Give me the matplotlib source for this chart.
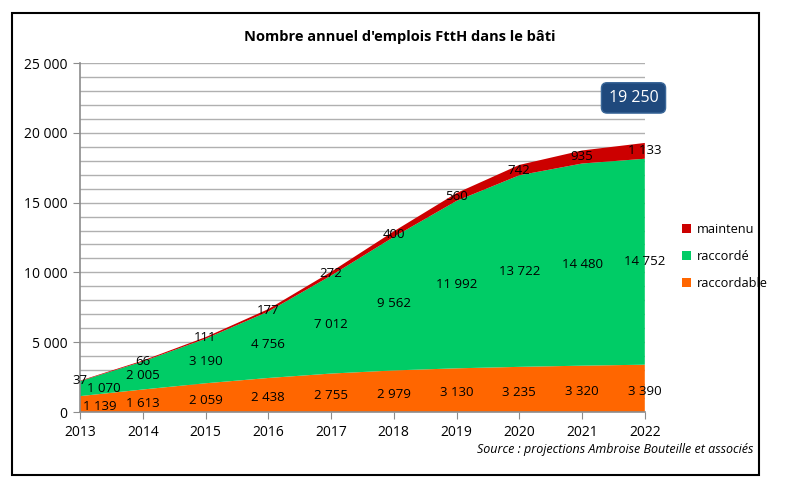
import matplotlib
matplotlib.use("Agg")
import matplotlib.pyplot as plt
from matplotlib.patches import Rectangle
from matplotlib.ticker import MultipleLocator, FuncFormatter

plt.rcParams["font.family"] = ["Open Sans", "DejaVu Sans"]

# Data
years = [2013, 2014, 2015, 2016, 2017, 2018, 2019, 2020, 2021, 2022]
raccordable = [1139, 1613, 2059, 2438, 2755, 2979, 3130, 3235, 3320, 3390]
raccorde = [1070, 2005, 3190, 4756, 7012, 9562, 11992, 13722, 14480, 14752]
maintenu = [37, 66, 111, 177, 272, 400, 560, 742, 935, 1133]
total_label = "19 250"

col_raccordable = "#FF6600"
col_raccorde = "#00CC66"
col_maintenu = "#CC0000"


def fmt(v):
    return f"{int(v):,}".replace(",", " ")


fig = plt.figure(figsize=(8, 4.88), dpi=100)
ax = fig.add_axes([0.1, 0.1557, 0.706, 0.7152])

ax.stackplot(years, raccordable, raccorde, maintenu,
             colors=[col_raccordable, col_raccorde, col_maintenu],
             labels=["raccordable", "raccordé", "maintenu"], zorder=2)

ax.set_xlim(2013, 2022)
ax.set_ylim(0, 25000)
ax.yaxis.set_major_locator(MultipleLocator(5000))
ax.yaxis.set_minor_locator(MultipleLocator(1000))
ax.yaxis.set_major_formatter(FuncFormatter(lambda v, p: fmt(v)))
ax.set_xticks(years)
ax.grid(True, which="both", axis="y", color="#B0B0B0", linewidth=1, zorder=0)
ax.set_axisbelow(True)
for s in ["top", "right"]:
    ax.spines[s].set_visible(False)
for s in ["left", "bottom"]:
    ax.spines[s].set_color("#8C8C8C")
    ax.spines[s].set_linewidth(1.2)
ax.tick_params(axis="both", which="major", color="#8C8C8C", length=5,
               labelsize=10, pad=4)
ax.tick_params(axis="y", which="minor", length=0)

# Data labels at segment centres
for i, yr in enumerate(years):
    dx = 14 if i == 0 else 0
    b1 = raccordable[i]
    b2 = b1 + raccorde[i]
    ax.annotate(fmt(raccordable[i]), (yr, b1 / 2), xytext=(dx, -2),
                textcoords="offset points", ha="center", va="center", fontsize=9.5)
    ax.annotate(fmt(raccorde[i]), (yr, b1 + raccorde[i] / 2), xytext=(dx * 1.2, 0),
                textcoords="offset points", ha="center", va="center", fontsize=9.5)
    ax.annotate(fmt(maintenu[i]), (yr, b2 + maintenu[i] / 2), xytext=(0, 0),
                textcoords="offset points", ha="center", va="center", fontsize=9.5)

# Total box
ax.text(2021.82, 22500, total_label, ha="center", va="center", fontsize=11.5,
        color="white",
        bbox=dict(boxstyle="round,pad=0.45,rounding_size=0.35",
                  facecolor="#1F497D", edgecolor="#3A6799"), zorder=5)

# Legend
handles, labels = ax.get_legend_handles_labels()
fig.legend(handles[::-1], labels[::-1], loc="center left",
           bbox_to_anchor=(0.838, 0.475), frameon=False, fontsize=9.2,
           handlelength=0.7, handleheight=0.7, handletextpad=0.5,
           labelspacing=1.1)

fig.text(0.5, 0.924, "Nombre annuel d'emplois FttH dans le bâti",
         ha="center", va="center", fontsize=10.5, fontweight="bold")
fig.text(0.942, 0.078, "Source : projections Ambroise Bouteille et associés",
         ha="right", va="center", fontsize=9, style="italic")

# Outer frame
fig.patches.append(Rectangle((0.015, 0.0266), 0.934, 0.946, transform=fig.transFigure,
                             fill=False, edgecolor="black", linewidth=1.5))

fig.savefig("out.png", dpi=100)
